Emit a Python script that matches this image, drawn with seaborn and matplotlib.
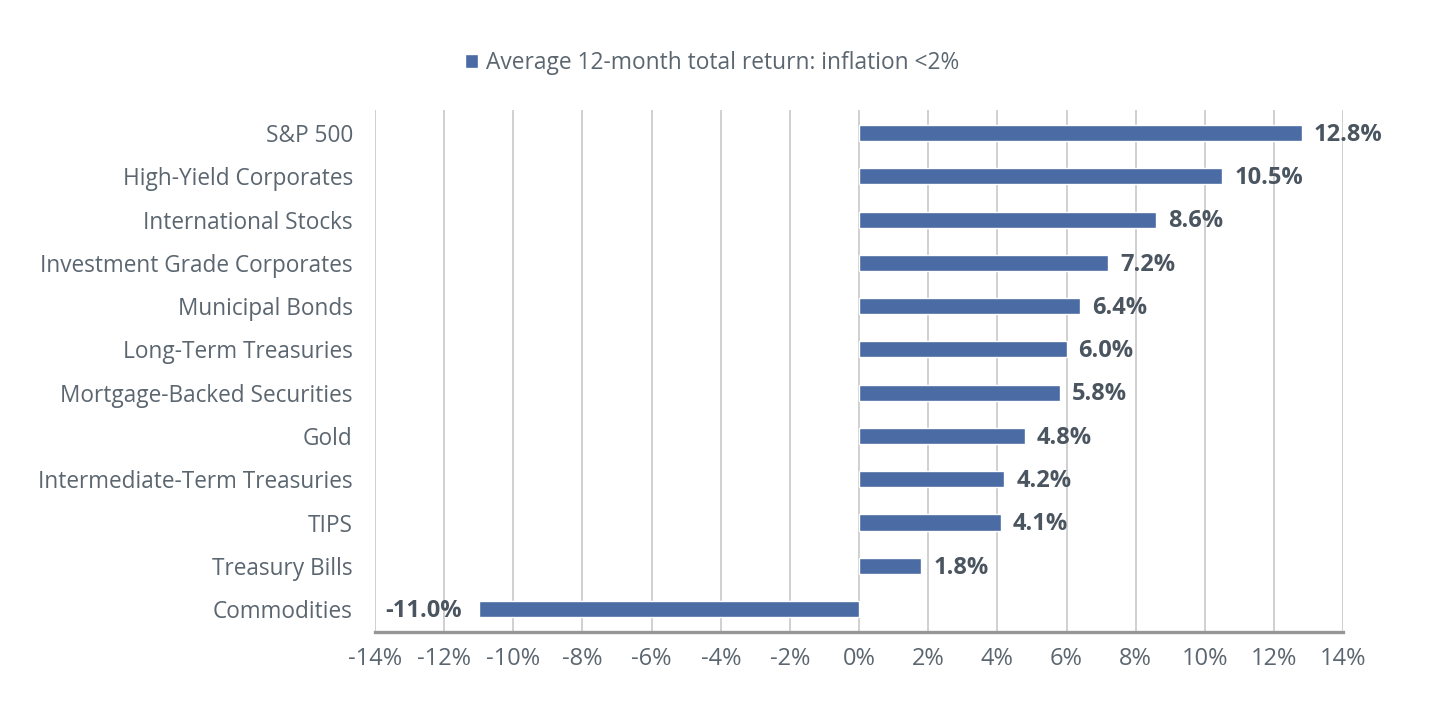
import matplotlib
matplotlib.use("Agg")
import matplotlib.pyplot as plt
import seaborn as sns
import pandas as pd
from matplotlib.ticker import FixedLocator

categories = ["S&P 500", "High-Yield Corporates", "International Stocks",
              "Investment Grade Corporates", "Municipal Bonds", "Long-Term Treasuries",
              "Mortgage-Backed Securities", "Gold", "Intermediate-Term Treasuries",
              "TIPS", "Treasury Bills", "Commodities"]
values = [12.8, 10.5, 8.6, 7.2, 6.4, 6.0, 5.8, 4.8, 4.2, 4.1, 1.8, -11.0]
series_name = "Average 12-month total return: inflation <2%"
xticks = [-14, -12, -10, -8, -6, -4, -2, 0, 2, 4, 6, 8, 10, 12, 14]

sns.set_theme(style="white")
plt.rcParams['font.family'] = ['Open Sans', 'DejaVu Sans']

bar_color = "#4A6BA3"
text_color = "#5B6670"
label_color = "#4A5560"

df = pd.DataFrame({"category": categories, "value": values, "series": series_name})

fig = plt.figure(figsize=(14.38, 7.02), dpi=100)
ax = fig.add_axes([0.2608, 0.0997, 0.6732, 0.7436])

sns.barplot(data=df, x="value", y="category", hue="series", palette=[bar_color],
            orient="h", width=0.37, saturation=1, ax=ax, legend=True, zorder=3)

ax.set_xlim(-14, 14)
ax.set_ylim(len(categories) - 0.47, -0.53)
ax.xaxis.set_major_locator(FixedLocator(xticks))
ax.set_xticklabels([f"{t}%" for t in xticks])
ax.grid(axis="x", color="#C8C8C8", linewidth=1.2, zorder=0)
ax.grid(axis="y", visible=False)
ax.set_xlabel("")
ax.set_ylabel("")
for s in ["top", "right", "left"]:
    ax.spines[s].set_visible(False)
ax.spines["bottom"].set_color("#969696")
ax.spines["bottom"].set_linewidth(2.4)
ax.tick_params(axis="x", length=0, pad=11, labelsize=17, labelcolor=text_color)
ax.tick_params(axis="y", length=0, pad=16, labelsize=16.3, labelcolor=text_color)

for i, v in enumerate(values):
    if v >= 0:
        ax.text(v + 0.35, i + 0.04, f"{v:.1f}%", va="center", ha="left", fontsize=17,
                fontweight="bold", color=label_color, zorder=4)
    else:
        ax.text(v - 0.5, i + 0.04, f"{v:.1f}%", va="center", ha="right", fontsize=17,
                fontweight="bold", color=label_color, zorder=4)

ax.legend(loc="center", bbox_to_anchor=(0.348, 1.09), frameon=False, fontsize=16.4,
          handlelength=0.55, handleheight=0.55, handletextpad=0.35, labelcolor=text_color)

fig.savefig("out.png", dpi=100, facecolor="white")
